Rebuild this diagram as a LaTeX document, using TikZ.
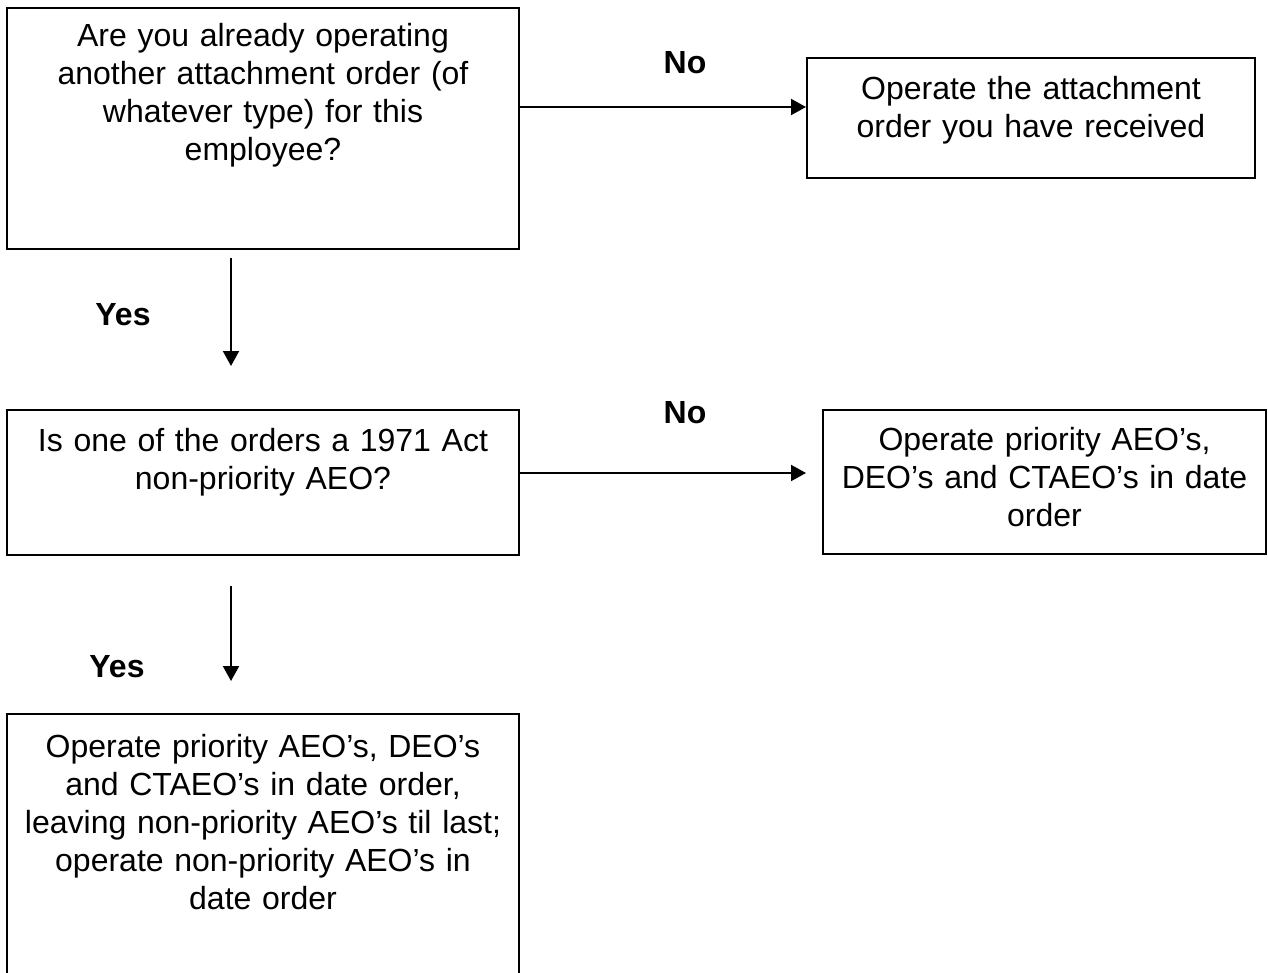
\documentclass[tikz,border=0pt]{standalone}
\usepackage{fontspec}
\setmainfont{Liberation Sans}
\usetikzlibrary{arrows.meta}
\begin{document}
\begin{tikzpicture}[x=1pt,y=-1pt,
  box/.style={draw, line width=2pt, inner sep=0pt},
  txt/.style={font=\fontsize{32}{38}\selectfont, align=center, text width=#1, anchor=base, inner sep=0pt},
  lbl/.style={font=\fontsize{32}{38}\selectfont\bfseries, inner sep=0pt},
  arr/.style={line width=2pt, -{Triangle[length=15pt,width=16pt]}}]
\useasboundingbox[fill=white] (0,0) rectangle (1268,973);
% boxes
\node[box, minimum width=512pt, minimum height=241pt] (b1) at (263,128.5) {};
\node[box, minimum width=448pt, minimum height=120pt] (b2) at (1031,118) {};
\node[box, minimum width=512pt, minimum height=145pt] (b3) at (263,482.5) {};
\node[box, minimum width=443pt, minimum height=144pt] (b4) at (1044.5,482) {};
\node[box, minimum width=512pt, minimum height=286pt] (b5) at (263,857) {};
% texts
\node[txt=500pt] (t1) at (263,47) {Are you already operating\\another attachment order (of\\whatever type) for this\\employee?};
\node[txt=440pt] (t2) at (1031,100) {Operate the attachment\\order you have received};
\node[txt=500pt] (t3) at (263,451) {Is one of the orders a 1971 Act\\non-priority AEO?};
\node[txt=440pt] (t4) at (1044.5,450) {Operate priority AEO’s,\\DEO’s and CTAEO’s in date\\order};
\node[txt=510pt] (t5) at (263,757) {Operate priority AEO’s, DEO’s\\and CTAEO’s in date order,\\leaving non-priority AEO’s til last;\\operate non-priority AEO’s in\\date order};
% labels
\node[lbl] (n1) at (685,63) {No};
\node[lbl] (n2) at (685,413) {No};
\node[lbl] (y1) at (123,315) {Yes};
\node[lbl] (y2) at (117,667) {Yes};
% connectors
\coordinate (a1) at ([yshift=11pt]b2.west);
\draw[arr] (b1.east |- a1) -- (a1);
\coordinate (a2) at ([xshift=-16pt,yshift=9pt]b4.west);
\draw[arr] (b3.east |- a2) -- (a2);
\draw[arr] ([xshift=-32pt,yshift=-8pt]b1.south) -- ([xshift=-32pt,yshift=43pt]b3.north);
\draw[arr] ([xshift=-32pt,yshift=-30pt]b3.south) -- ([xshift=-32pt,yshift=32pt]b5.north);
\end{tikzpicture}
\end{document}
